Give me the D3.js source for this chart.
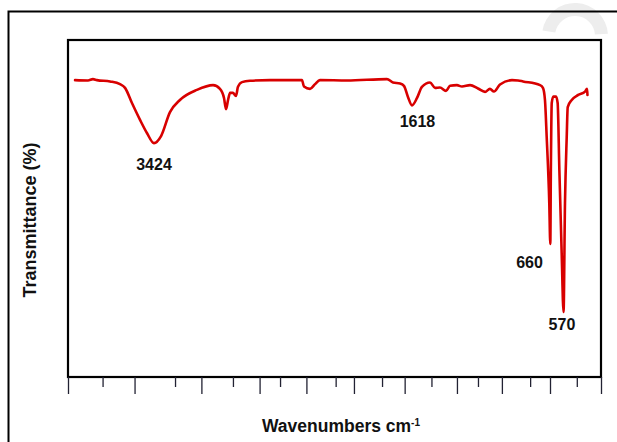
<!DOCTYPE html>
<html>
<head>
<meta charset="utf-8">
<script src="https://cdn.jsdelivr.net/npm/d3@7"></script>
<style>
  html, body { margin: 0; padding: 0; background: #fff; }
  svg { display: block; }
  text { font-family: "Liberation Sans", Arial, sans-serif; font-weight: bold; fill: #111; }
</style>
</head>
<body>
<svg id="chart" width="617" height="442"></svg>
<script>
// ---- data ----
const wavenumbers = [3951,3861,3827,3799,3708,3639,3604,3556,3500,3452,3403,3354,3292,3223,3105,2993,2945,2917,2903,2889,2875,2855,2834,2820,2792,2737,2598,2376,2362,2320,2285,2251,2063,1786,1744,1695,1668,1640,1612,1577,1543,1487,1452,1418,1376,1348,1300,1265,1209,1154,1105,1071,1043,1001,918,876,841,723,703,689,677,659,652,648,642,631,612,601,589,573,560,550,538,531,503,458,411,397,394];
const transmittance = [88.1,88.0,88.4,88.1,87.7,86.9,85.8,81.3,76.3,72.4,69.4,71.5,78.6,82.2,85.2,86.6,85.5,82.8,79.5,82.2,84.3,84.3,83.4,86.1,87.5,87.9,88.1,88.1,86.2,85.5,86.9,88.1,88.0,88.4,87.4,87.1,86.4,83.1,80.6,82.8,86.1,87.4,85.8,85.9,84.9,86.4,86.6,86.2,86.6,85.6,84.6,85.5,84.7,86.8,88.1,88.0,87.7,86.6,85.8,82.2,71.2,51.6,39.5,61.4,81.3,83.2,83.2,81.3,61.4,36.8,19.3,51.6,71.2,80.1,82.2,83.7,84.7,85.5,83.7];
const majorTicks = [4000,3538,3074,2670,2345,2015,1663,1300,988,654,300];
const minorTicks = [3760,3257,2855,2528,2142,1820,1477,1154,792,468];
const peakLabels = ["3424","1618","660","570"];
const peakLabelWn = [3403,1574,796,571];
const peakLabelT = [61.4,74.3,32.3,13.9];
const xTitle = "Wavenumbers cm";
const xTitleSup = "-1";
const yTitle = "Transmittance (%)";

// ---- layout ----
const svg = d3.select("#chart");
const box = {left: 68, right: 601, top: 40, bottom: 377};
const x = d3.scaleLinear().domain([4000, 300]).range([box.left, box.right]);
const y = d3.scaleLinear().domain([0, 100]).range([box.bottom, box.top]);

// watermark arc (light grey)
svg.append("path")
  .attr("d", d3.arc()({innerRadius: 20, outerRadius: 33, startAngle: -1.4, endAngle: 1.5}))
  .attr("transform", "translate(575,36)")
  .attr("fill", "#ededed");

// outer frame
svg.append("rect")
  .attr("x", 8.5).attr("y", 11.5).attr("width", 700).attr("height", 600)
  .attr("fill", "none").attr("stroke", "#000").attr("stroke-width", 2);

// plot box
svg.append("rect")
  .attr("x", box.left).attr("y", box.top)
  .attr("width", box.right - box.left).attr("height", box.bottom - box.top)
  .attr("fill", "#fff").attr("stroke", "#000").attr("stroke-width", 2.2);

// x axis ticks (no labels)
const axMajor = d3.axisBottom(x).tickValues(majorTicks).tickSize(17).tickFormat("");
const axMinor = d3.axisBottom(x).tickValues(minorTicks).tickSize(10).tickFormat("");
[axMajor, axMinor].forEach(ax => {
  const g = svg.append("g").attr("transform", `translate(0,${box.bottom})`).call(ax);
  g.select(".domain").remove();
  g.selectAll(".tick line").attr("stroke", "#223").attr("stroke-width", 1.3);
});

// spectrum (ascending x order for a monotone curve)
const pts = wavenumbers.map((w, i) => [w, transmittance[i]]).reverse();
svg.append("path")
  .datum(pts)
  .attr("d", d3.line().x(d => x(d[0])).y(d => y(d[1])).curve(d3.curveMonotoneX))
  .attr("fill", "none").attr("stroke", "#d80000").attr("stroke-width", 2.6)
  .attr("stroke-linejoin", "round").attr("stroke-linecap", "round");

// peak labels
svg.selectAll("text.peak").data(peakLabels).enter().append("text")
  .attr("class", "peak")
  .attr("x", (d, i) => x(peakLabelWn[i]))
  .attr("y", (d, i) => y(peakLabelT[i]))
  .attr("text-anchor", "middle")
  .attr("font-size", 16)
  .text(d => d);

// axis titles
const xt = svg.append("text")
  .attr("x", 341).attr("y", 432)
  .attr("text-anchor", "middle").attr("font-size", 17.5);
xt.append("tspan").text(xTitle);
xt.append("tspan").attr("dy", -6).attr("font-size", 10).text(xTitleSup);

svg.append("text")
  .attr("transform", "translate(36,220) rotate(-90)")
  .attr("text-anchor", "middle").attr("font-size", 18)
  .text(yTitle);
</script>
</body>
</html>
